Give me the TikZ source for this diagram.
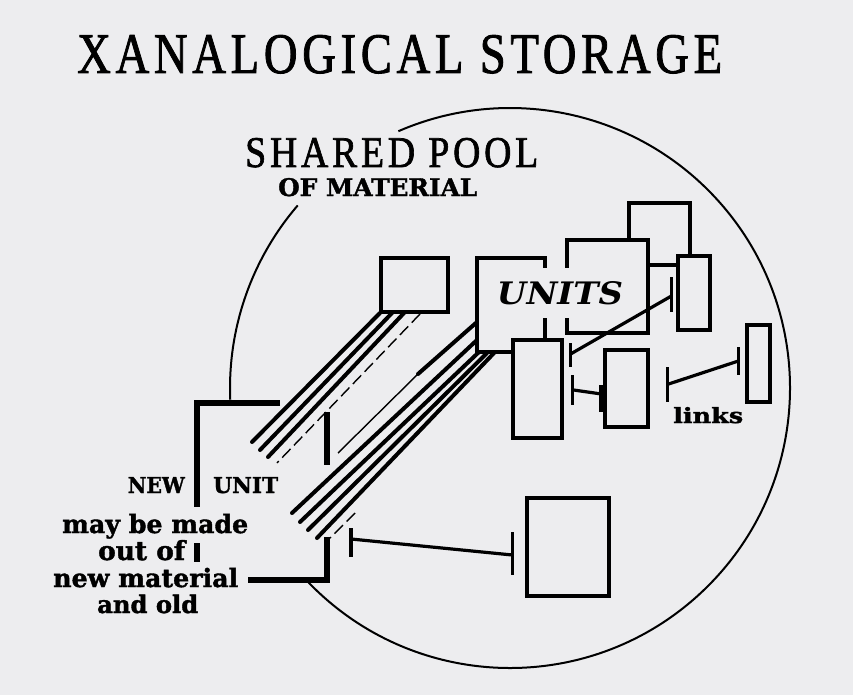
\documentclass[tikz,border=0pt]{standalone}
\usepackage{fontspec}
\setmainfont{DejaVu Serif}[BoldFeatures={FakeBold=1.5}]
\newfontfamily\headfont{Liberation Serif}[FakeBold=1.6,LetterSpace=10]
\usetikzlibrary{calc}
\definecolor{paper}{RGB}{237,237,239}

\begin{document}
\begin{tikzpicture}[x=1pt,y=-1pt,
  unit/.style={draw,line width=3.2pt,fill=paper,inner sep=0pt},
  strand/.style={line width=4pt,line cap=round},
  thread/.style={line width=1.4pt,dash pattern=on 12pt off 5pt},
  link/.style={line width=3.2pt},
  frame/.style={line width=5.5pt},
  pool/.style={line width=2pt},
  word/.style={inner sep=0pt,font=\bfseries}]
  \useasboundingbox[fill=paper] (0,0) rectangle (853,695);
  % headings
  \node[inner sep=0pt,anchor=base west,font=\headfont] (title) at (77,73) {\resizebox{645pt}{38pt}{XANALOGICAL STORAGE}};
  \node[inner sep=0pt,anchor=base west,font=\headfont] (shared) at (245,167) {\resizebox{293pt}{29pt}{SHARED POOL}};
  \node[word,anchor=base west] (material) at (278,196) {\resizebox{199pt}{18pt}{OF MATERIAL}};
  % the pool
  \coordinate (pc) at (510,388);
  \draw[pool] (pc) ++(-224:280) arc[start angle=-224,end angle=-473.5,radius=280];
  \draw[pool] (pc) ++(-139.3:280) arc[start angle=-139.3,end angle=-182.4,radius=280];
  % new unit
  \coordinate (nu) at (327,580);
  \draw[frame] (280,403) -- (197,403) -- (197,507);
  \draw[frame] (197,543) -- (197,562);
  \draw[frame] (248,580) -- (nu) -- (327,537);
  \draw[frame] (327,412) -- (327,465);
  \node[word,anchor=base east] (new) at (185,493) {\resizebox{57pt}{16pt}{NEW}};
  \node[word,anchor=base west] (unit) at (213,493) {\resizebox{65pt}{16pt}{UNIT}};
  \node[word,anchor=base west] (may) at (62,533) {\resizebox{186pt}{!}{may be made}};
  \node[word,anchor=base west] (out) at (98,560) {\resizebox{87pt}{!}{out of}};
  \node[word,anchor=base west] (newmat) at (53,587) {\resizebox{185pt}{!}{new material}};
  \node[word,anchor=base west] (old) at (97,613) {\resizebox{101pt}{!}{and old}};
  % material taken over
  \draw[strand] (380,313) -- (252,442);
  \draw[strand] (392,313) -- (260,450);
  \draw[strand] (404,313) -- (268,457);
  \draw[thread] (420,314) -- (277,463);
  \draw[strand] (477,322) -- (418,374);
  \draw[line width=1.4pt] (418,374) -- (338,453);
  \draw[strand] (477,340) -- (292,513);
  \draw[strand] (479,352) -- (300,522);
  \draw[strand] (487,353) -- (308,530);
  \draw[strand] (494,353) -- (317,538);
  \draw[thread] (355,513) -- (330,538);
  % units
  \node[unit,minimum width=61,minimum height=62] (E) at (659.5,234) {};
  \node[unit,minimum width=81,minimum height=93] (D) at (607.5,286.5) {};
  \node[unit,minimum width=32,minimum height=74] (F) at (694,293) {};
  \node[unit,minimum width=67,minimum height=54] (A) at (414.5,285) {};
  \node[unit,minimum width=68,minimum height=94] (B) at (511,305) {};
  \node[fill=paper,inner xsep=4pt,inner ysep=13pt,font=\bfseries\itshape] (units) at (560,293) {\resizebox{126pt}{23pt}{UNITS}};
  \node[unit,minimum width=49,minimum height=98] (C) at (537.5,389) {};
  \node[unit,minimum width=43,minimum height=77] (G) at (626.5,388.5) {};
  \node[unit,minimum width=23,minimum height=77] (H) at (758.5,363.5) {};
  \node[unit,minimum width=82,minimum height=98] (I) at (568,547) {};
  % links
  \draw[link] ($(C.east)+(7,-35)$) -- ($(F.west)+(-5,3)$);
  \draw[link] ($(C.east)+(7,-46)$) -- ++(0,24);
  \draw[link] ($(F.west)+(-5,-16)$) -- ++(0,35);
  \draw[link] ($(C.east)+(10,1)$) -- ($(G.west)+(-2,5.5)$);
  \draw[link] ($(C.east)+(9,-14)$) -- ++(0,30);
  \draw[line width=5pt] ($(G.west)+(-2,-3.5)$) -- ++(0,27);
  \draw[link] ($(G.east)+(19,-4.5)$) -- ($(H.west)+(-7,-2.5)$);
  \draw[link] ($(G.east)+(18,-21.5)$) -- ++(0,35);
  \draw[link] ($(H.west)+(-7,-16.5)$) -- ++(0,28);
  \node[word,anchor=base west] (links) at (673,423) {\resizebox{70pt}{16pt}{links}};
  \draw[link] ($(nu)+(24,-41)$) -- ($(I.west)+(-13,8)$);
  \draw[link] ($(nu)+(24,-52)$) -- ++(0,29);
  \draw[link] ($(I.west)+(-13,-15)$) -- ++(0,43);
\end{tikzpicture}
\end{document}
